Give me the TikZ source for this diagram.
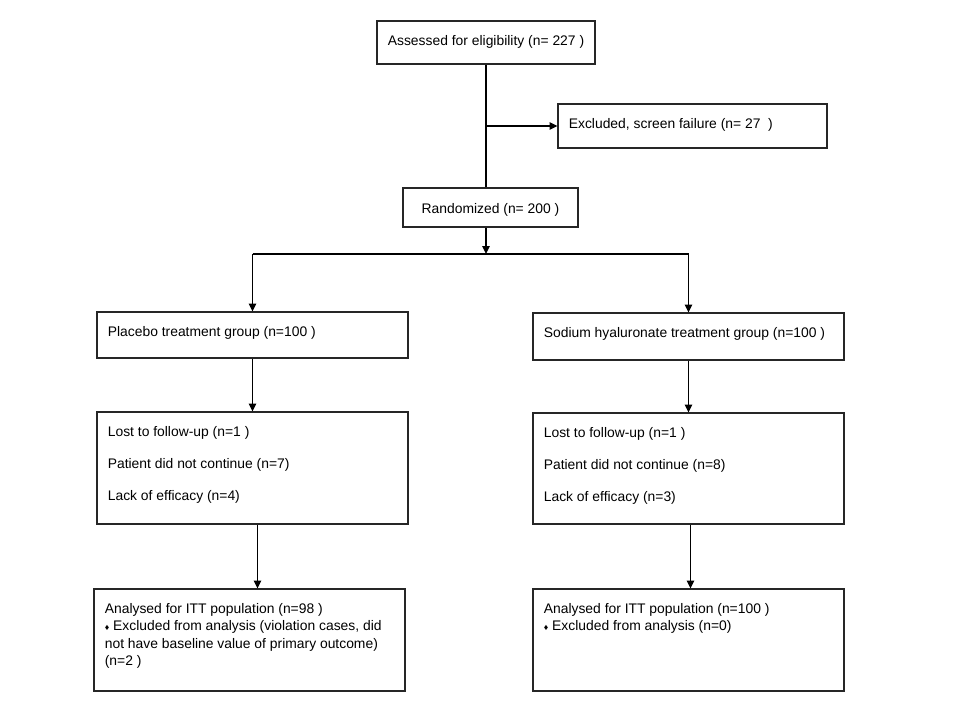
\documentclass[tikz,border=0pt]{standalone}
\usepackage{fontspec}
\setmainfont{Liberation Sans}
\usetikzlibrary{arrows.meta,fit}
\newcommand{\dmd}{{\fontsize{5}{5}\selectfont ♦}}
\begin{document}
\begin{tikzpicture}[x=0.02cm,y=-0.02cm,
  box/.style={draw=black!85,line width=0.6pt,inner sep=0pt,rectangle},
  txt/.style={inner sep=0pt,anchor=base west,font=\fontsize{7.9}{9.9}\selectfont},
  arr/.style={-{Triangle[length=4.5pt,width=4.2pt]},line width=0.9pt}]
\useasboundingbox[fill=white] (0,0) rectangle (960,720);
% box corners
\coordinate (A1) at (377,21);
\coordinate (A2) at (595,64);
\coordinate (B1) at (558,104);
\coordinate (B2) at (827,148);
\coordinate (C1) at (403,188);
\coordinate (C2) at (578,227);
\coordinate (D1) at (97,312);
\coordinate (D2) at (408,358);
\coordinate (DD1) at (533,313);
\coordinate (DD2) at (844,360);
\coordinate (E1) at (97,412);
\coordinate (E2) at (408,524);
\coordinate (EE1) at (533,413);
\coordinate (EE2) at (844,524);
\coordinate (F1) at (94,589);
\coordinate (F2) at (405,691);
\coordinate (FF1) at (533,589);
\coordinate (FF2) at (844,691);
\foreach \b/\p/\q in {assess/A1/A2,excl/B1/B2,rand/C1/C2,placebo/D1/D2,sodium/DD1/DD2,lostL/E1/E2,lostR/EE1/EE2,anaL/F1/F2,anaR/FF1/FF2}
	\node[box,fit=(\p)(\q)] (\b) {};
% texts
\node[txt] (assesstxt) at ([shift={(11,25)}]assess.north west) {Assessed for eligibility (n= 227 )};
\node[txt] (excltxt) at ([shift={(11,25)}]excl.north west) {Excluded, screen failure (n= 27\ \ )};
\node[txt,anchor=base] (randtxt) at ([shift={(0,26)}]rand.north) {Randomized (n= 200 )};
\node[txt] (placebotxt) at ([shift={(11,25)}]placebo.north west) {Placebo treatment group (n=100 )};
\node[txt] (sodiumtxt) at ([shift={(11,25)}]sodium.north west) {Sodium hyaluronate treatment group (n=100 )};
\foreach \t [count=\i from 0] in {{Lost to follow-up (n=1 )},{Patient did not continue (n=7)},{Lack of efficacy (n=4)}}
	\node[txt] (lostLtxt\i) at ([shift={(11,{25+32*\i})}]lostL.north west) {\t};
\foreach \t [count=\i from 0] in {{Lost to follow-up (n=1 )},{Patient did not continue (n=8)},{Lack of efficacy (n=3)}}
	\node[txt] (lostRtxt\i) at ([shift={(11,{25+32*\i})}]lostR.north west) {\t};
\foreach \t [count=\i from 0] in {{Analysed for ITT population (n=98 )},{\dmd{} Excluded from analysis (violation cases, did},{not have baseline value of primary outcome)},{(n=2 )}}
	\node[txt] (anaLtxt\i) at ([shift={(11,{25+17.5*\i})}]anaL.north west) {\t};
\foreach \t [count=\i from 0] in {{Analysed for ITT population (n=100 )},{\dmd{} Excluded from analysis (n=0)}}
	\node[txt] (anaRtxt\i) at ([shift={(11,{25+17.5*\i})}]anaR.north west) {\t};
% connectors
\coordinate (split) at (assess.south |- excl.west);
\coordinate (fork) at (assess.south |- 0,254);
\coordinate (forkL) at (placebo.north |- fork);
\coordinate (forkR) at (sodium.north |- fork);
\draw[line width=0.9pt] (assess.south) -- (assess.south |- rand.north);
\draw[arr] (split) -- (excl.west);
\draw[arr] (assess.south |- rand.south) -- (fork);
\draw[line width=0.9pt] (forkL) -- (forkR);
\draw[arr] (forkL) -- (placebo.north);
\draw[arr] (forkR) -- (sodium.north);
\draw[arr] (placebo) -- (lostL);
\draw[arr] (sodium) -- (lostR);
\draw[arr] ([xshift=0.1cm]lostL.south) -- ([xshift=0.1cm]lostL.south |- anaL.north);
\draw[arr] ([xshift=0.04cm]lostR.south) -- ([xshift=0.04cm]lostR.south |- anaR.north);
\end{tikzpicture}
\end{document}
